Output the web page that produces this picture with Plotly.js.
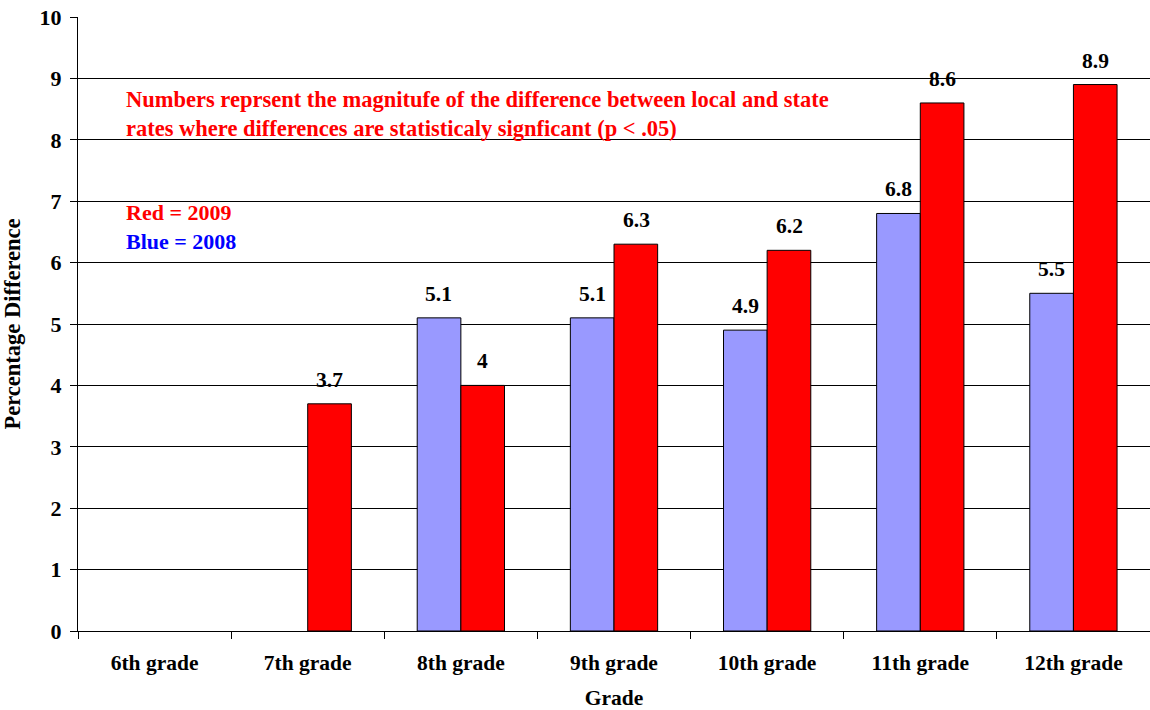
<!DOCTYPE html>
<html>
<head>
<meta charset="utf-8">
<script src="https://cdn.plot.ly/plotly-3.0.1.min.js"></script>
<style>html,body{margin:0;padding:0;background:#fff;}#chart{width:1150px;height:710px;}</style>
</head>
<body>
<div id="chart"></div>
<script>
const grades = ["6th grade", "7th grade", "8th grade", "9th grade", "10th grade", "11th grade", "12th grade"];
const blue2008 = [null, null, 5.1, 5.1, 4.9, 6.8, 5.5];
const red2009 = [null, 3.7, 4.0, 6.3, 6.2, 8.6, 8.9];
const yTicks = [0, 1, 2, 3, 4, 5, 6, 7, 8, 9, 10];

const FONT = "'Liberation Serif', 'Times New Roman', serif";

const traces = [
  {type: "bar", name: "2008", x: grades, y: blue2008,
   marker: {color: "#9999FF", line: {color: "#000000", width: 1}}, hoverinfo: "x+y"},
  {type: "bar", name: "2009", x: grades, y: red2009,
   marker: {color: "#FF0000", line: {color: "#000000", width: 1}}, hoverinfo: "x+y"}
];

const annotations = [];
function addLabels(vals, shift) {
  vals.forEach((v, i) => {
    if (v === null) return;
    annotations.push({x: grades[i], y: v, xref: "x", yref: "y", text: "<b>" + String(v) + "</b>",
      showarrow: false, xshift: shift, yshift: 24, yanchor: "middle",
      font: {family: FONT, size: 21.5, color: "#000"}});
  });
}
addLabels(blue2008, -22);
addLabels(red2009, 22);

annotations.push({xref: "paper", yref: "paper", x: 0.043, y: 0.842, xanchor: "left", yanchor: "middle",
  align: "left", showarrow: false,
  text: "<b>Numbers reprsent the magnitufe of the difference between local and state<br>rates where differences are statisticaly signficant (p &lt; .05)</b>",
  font: {family: FONT, size: 22.5, color: "#FF0000"}});
annotations.push({xref: "paper", yref: "paper", x: 0.043, y: 0.682, xanchor: "left", yanchor: "middle",
  align: "left", showarrow: false, text: "<b>Red = 2009</b>",
  font: {family: FONT, size: 22, color: "#FF0000"}});
annotations.push({xref: "paper", yref: "paper", x: 0.043, y: 0.634, xanchor: "left", yanchor: "middle",
  align: "left", showarrow: false, text: "<b>Blue = 2008</b>",
  font: {family: FONT, size: 22, color: "#0000FF"}});

const layout = {
  width: 1150, height: 710,
  margin: {l: 78, r: 0, t: 17, b: 79},
  paper_bgcolor: "#fff", plot_bgcolor: "#fff",
  showlegend: false,
  barmode: "group", bargap: 0.43, bargroupgap: 0,
  font: {family: FONT, color: "#000"},
  xaxis: {
    type: "category", tickson: "boundaries", ticks: "outside", ticklen: 7, tickcolor: "#000",
    showline: true, linecolor: "#000", linewidth: 1, showgrid: false,
    tickfont: {family: FONT, size: 21.5, color: "#000", weight: "bold"},
    ticklabelstandoff: 12,
    title: {text: "<b>Grade</b>", font: {family: FONT, size: 21.5, color: "#000"}, standoff: 20}
  },
  yaxis: {
    range: [0, 10], tickvals: yTicks, ticktext: yTicks.map(String),
    ticks: "outside", ticklen: 7, tickcolor: "#000",
    showline: true, linecolor: "#000", linewidth: 1,
    showgrid: true, gridcolor: "#000", gridwidth: 1, zeroline: false,
    tickfont: {family: FONT, size: 22, color: "#000", weight: "bold"},
    ticklabelstandoff: 4,
    title: {text: "<b>Percentage Difference</b>", font: {family: FONT, size: 22.5, color: "#000"}, standoff: 14}
  },
  annotations: annotations
};

Plotly.newPlot("chart", traces, layout, {displayModeBar: false, staticPlot: true});
</script>
</body>
</html>
